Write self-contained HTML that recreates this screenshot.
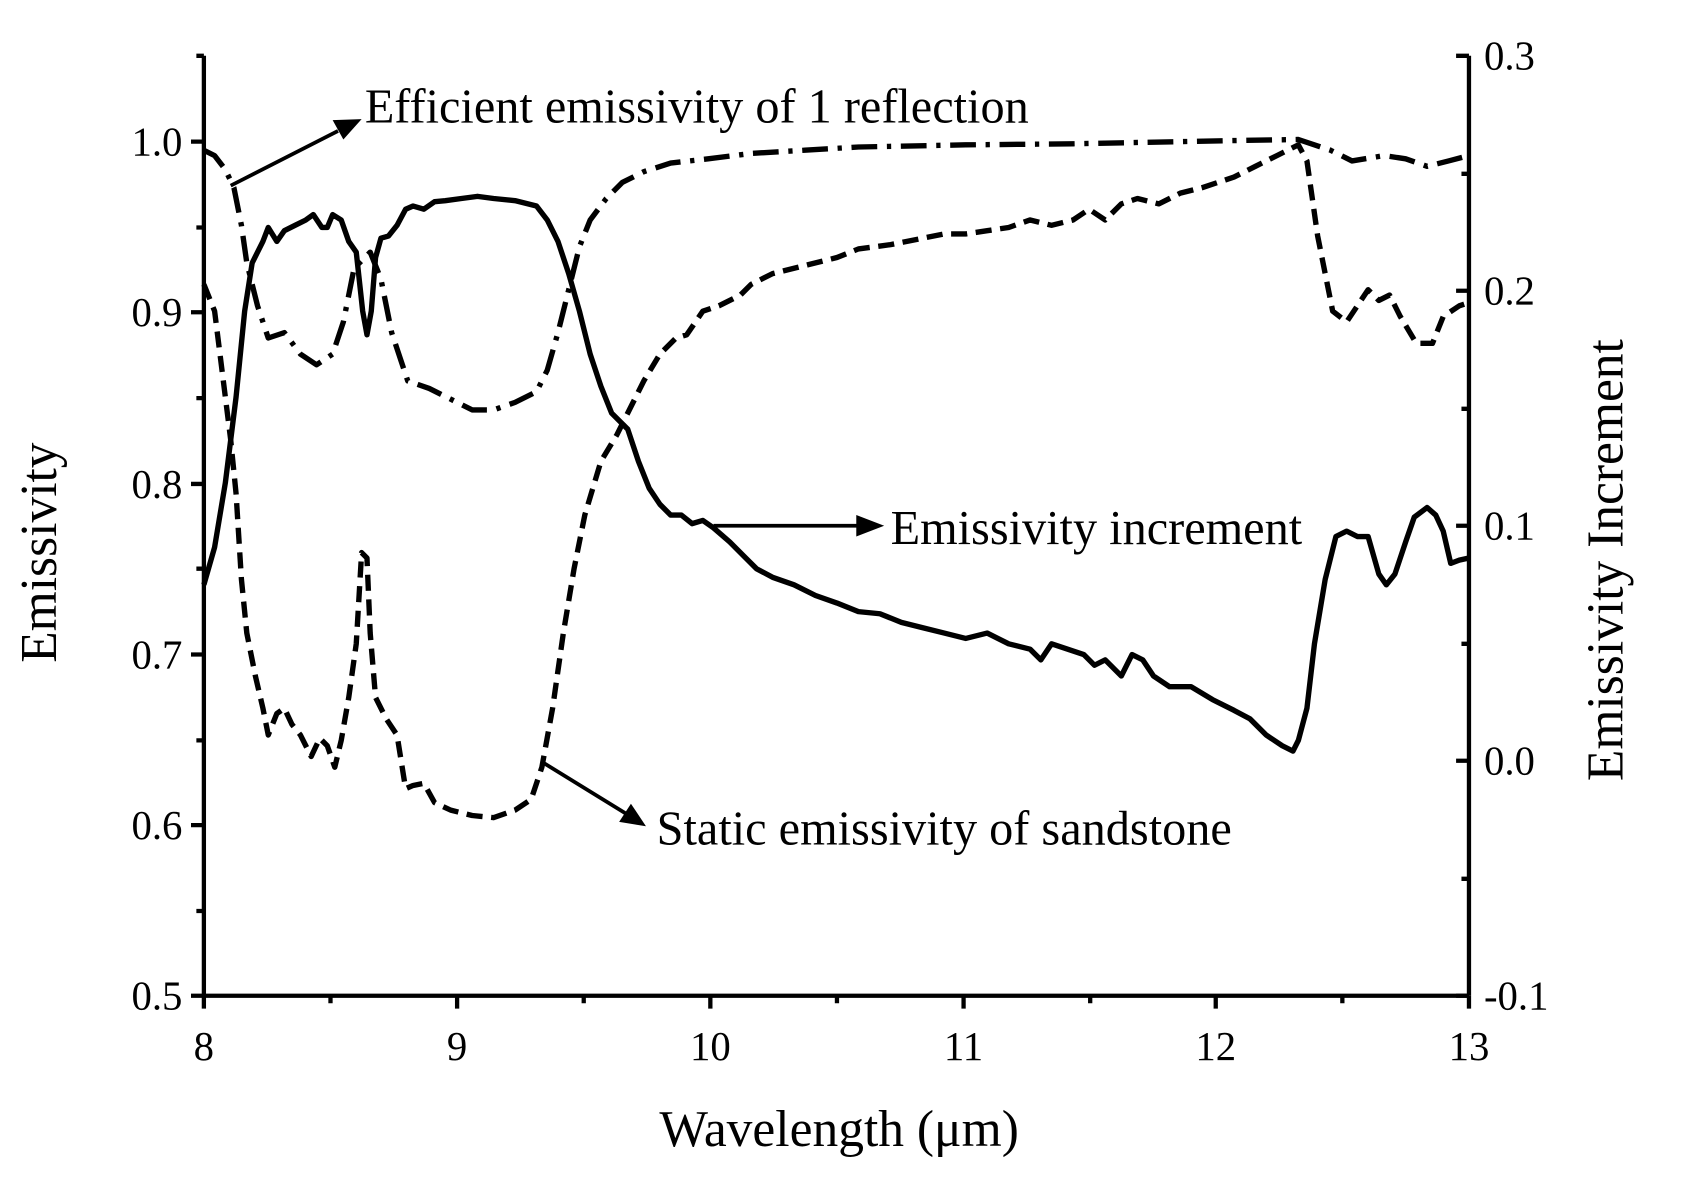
<!DOCTYPE html>
<html><head><style>html,body{margin:0;padding:0;background:#fff}svg{display:block}</style></head>
<body>
<svg width="1681" height="1183" viewBox="0 0 1566.6 1102.5" xmlns="http://www.w3.org/2000/svg" font-family="Liberation Serif, serif">
<g stroke="#000" stroke-width="4" fill="none">
<line x1="190" y1="52" x2="190" y2="928"/>
<line x1="1369" y1="52" x2="1369" y2="928"/>
<line x1="190" y1="928" x2="1369" y2="928"/>
<path d="M190 928h-12M190 769h-12M190 610h-12M190 451h-12M190 291h-12M190 132h-12M190 849h-7M190 690h-7M190 530h-7M190 371h-7M190 212h-7M190 52h-7"/>
<path d="M1369 52h-12M1369 271h-12M1369 490h-12M1369 709h-12M1369 928h-12M1369 162h-7M1369 381h-7M1369 600h-7M1369 819h-7"/>
<path d="M190 928v12M426 928v12M662 928v12M898 928v12M1133 928v12M1369 928v12M308 928v7M544 928v7M780 928v7M1016 928v7M1251 928v7"/>
</g>
<g font-size="38" fill="#000" text-anchor="end">
<text x="170" y="941">0.5</text><text x="170" y="782">0.6</text><text x="170" y="623">0.7</text><text x="170" y="464">0.8</text><text x="170" y="304">0.9</text><text x="170" y="145">1.0</text>
</g>
<g font-size="38" fill="#000" text-anchor="start">
<text x="1383" y="65">0.3</text><text x="1383" y="284">0.2</text><text x="1383" y="503">0.1</text><text x="1383" y="722">0.0</text><text x="1383" y="941">-0.1</text>
</g>
<g font-size="38" fill="#000" text-anchor="middle">
<text x="190" y="988">8</text><text x="426" y="988">9</text><text x="662" y="988">10</text><text x="898" y="988">11</text><text x="1133" y="988">12</text><text x="1369" y="988">13</text>
</g>
<text x="782" y="1068" font-size="48" text-anchor="middle">Wavelength (μm)</text>
<text transform="translate(52,515) rotate(-90)" font-size="48" text-anchor="middle">Emissivity</text>
<text transform="translate(1512,522) rotate(-90)" font-size="48" text-anchor="middle">Emissivity Increment</text>
<g fill="none" stroke="#000" stroke-width="5" stroke-linejoin="round">
<polyline points="190,545 200,510 210,450 220,370 228,290 235,245 245,225 250,212 258,225 265,215 275,210 285,205 292,200 300,212 305,212 310,200 318,205 325,225 332,235 338,290 342,312 346,290 350,240 355,222 362,220 370,210 378,195 385,192 395,195 405,188 415,187 430,185 445,183 460,185 480,187 500,192 510,205 520,225 530,255 540,290 550,330 560,360 570,385 585,400 595,430 605,455 615,470 625,480 635,480 645,488 655,485 665,492 680,505 695,520 705,530 720,538 740,545 760,555 780,562 800,570 820,572 840,580 860,585 880,590 900,595 920,590 940,600 960,605 970,615 980,600 995,605 1010,610 1020,620 1030,615 1045,630 1055,610 1065,615 1075,630 1090,640 1110,640 1130,652 1150,662 1165,670 1180,685 1195,695 1205,700 1210,690 1218,660 1225,600 1235,540 1245,500 1255,495 1265,500 1275,500 1285,535 1292,545 1300,535 1310,505 1318,482 1330,473 1338,480 1345,495 1352,525 1360,522 1369,520"/>
<polyline stroke-dasharray="24 9 4 9" points="190,140 200,145 210,158 218,175 225,210 230,245 240,285 250,315 265,310 280,330 295,340 310,330 320,300 330,250 345,235 355,260 365,310 380,355 400,362 420,372 440,382 460,382 480,375 500,365 510,345 520,310 530,270 540,230 550,205 565,185 580,170 600,160 625,152 660,148 700,143 750,140 800,137 900,135 1000,134 1100,132 1150,131 1210,130 1240,140 1260,150 1290,145 1310,148 1330,155 1350,150 1369,145"/>
<polyline stroke-dasharray="15 8" points="190,265 200,290 210,370 215,410 220,460 225,540 230,590 238,630 245,660 250,685 258,665 265,660 272,675 280,685 290,705 298,688 305,695 312,715 318,690 325,650 332,600 337,515 342,520 345,590 350,650 360,670 370,685 378,735 385,732 395,730 405,748 420,755 440,760 460,762 480,755 495,745 505,715 515,660 525,590 535,530 545,480 560,430 575,405 590,375 600,355 615,330 630,315 640,312 655,290 670,285 690,275 700,265 720,255 740,250 760,245 780,240 800,232 830,228 860,222 880,218 900,218 920,215 940,212 960,205 980,210 1000,205 1015,195 1030,205 1045,190 1060,185 1080,190 1100,180 1120,175 1150,165 1170,155 1190,145 1210,135 1218,150 1228,220 1242,290 1255,300 1265,285 1275,270 1285,280 1295,275 1305,295 1320,320 1335,320 1345,295 1360,285 1369,282"/>
</g>
<g stroke="#000" stroke-width="3.5" fill="none">
<line x1="215" y1="173" x2="315" y2="122"/>
<line x1="665" y1="490" x2="800" y2="490"/>
<line x1="505" y1="710" x2="583" y2="758"/>
</g>
<g fill="#000">
<polygon points="337,111 310,112 320,130"/>
<polygon points="824,490 798,480 798,500"/>
<polygon points="602,770 577,766 588,749"/>
</g>
<g font-size="45" fill="#000">
<text x="340" y="114">Efficient emissivity of 1 reflection</text>
<text x="830" y="507">Emissivity increment</text>
<text x="612" y="787">Static emissivity of sandstone</text>
</g>
</svg>
</body></html>
